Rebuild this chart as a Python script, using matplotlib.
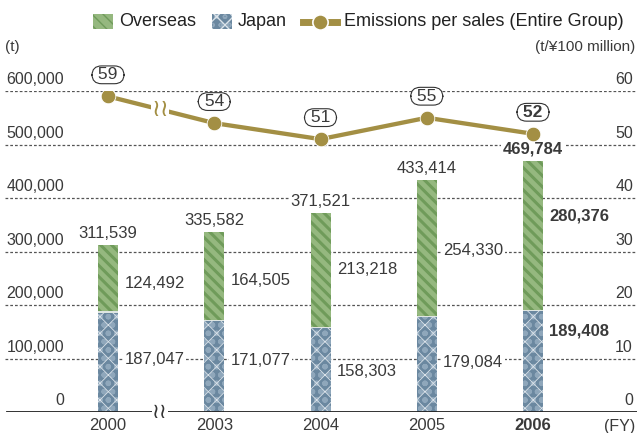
import numpy as np
import matplotlib
matplotlib.use("Agg")
import matplotlib.pyplot as plt
from matplotlib.patches import Rectangle
from matplotlib.lines import Line2D
from matplotlib.transforms import blended_transform_factory

plt.rcParams['font.family'] = ['Liberation Sans', 'DejaVu Sans']

# ---------------------------------------------------------------------------
# data
# ---------------------------------------------------------------------------
years     = ["2000", "2003", "2004", "2005", "2006"]
japan     = [187047, 171077, 158303, 179084, 189408]
overseas  = [124492, 164505, 213218, 254330, 280376]
totals    = [311539, 335582, 371521, 433414, 469784]
intensity = [59, 54, 51, 55, 52]

left_ticks  = [0, 100000, 200000, 300000, 400000, 500000, 600000]
right_ticks = [0, 10, 20, 30, 40, 50, 60]

# layout tweaks for segment labels (pixels, + is up)
ov_dy = [-5, -4, 1, -2, 20]
jp_dy = [2, 6, -2, 2, 30]

W, H = 637, 433
TXT = "#3a3a3a"
GREEN, GREEN_D = "#95b87f", "#6f9b5a"
BLUE, BLUE_L = "#6b88a0", "#8fa7bb"
GOLD = "#a38f44"


def fx(px):
    return px / W


def fy(py):
    return 1 - py / H


fig = plt.figure(figsize=(W / 100, H / 100), dpi=100)
ax = fig.add_axes([0, fy(412), 1, (412 - 91) / H])
ax2 = ax.twinx()
for a in (ax, ax2):
    a.set_axis_off()
    a.set_xlim(-108 / 106.25, (W - 108) / 106.25)
ax.set_ylim(0, 600000)
ax2.set_ylim(0, 60)

x = np.arange(len(years))
bw = 20 / 106.25

# grid + baseline
for v in left_ticks[1:]:
    ax.axhline(v, xmin=fx(5), xmax=fx(635), color="#555555", lw=0.9,
               dashes=(2.2, 1.6), zorder=0)
ax.axhline(0, xmin=fx(7), xmax=1, color="#222222", lw=1.3, zorder=3)

# tick labels sit just above the grid lines
tl = blended_transform_factory(ax.transAxes, ax.transData)
for v in left_ticks:
    ax.annotate(f"{v:,}", xy=(fx(64), v), xycoords=tl, xytext=(0, 5),
                textcoords="offset points", ha="right", va="baseline",
                fontsize=11.5, color=TXT)
tr = blended_transform_factory(ax2.transAxes, ax2.transData)
for v in right_ticks:
    ax2.annotate(f"{v}", xy=(fx(633), v), xycoords=tr, xytext=(0, 5),
                 textcoords="offset points", ha="right", va="baseline",
                 fontsize=11.5, color=TXT)

fig.text(fx(5), fy(47), "(t)", ha="left", va="center", fontsize=11, color=TXT)
fig.text(fx(635), fy(47), "(t/¥100 million)", ha="right", va="center",
         fontsize=11, color=TXT)
fig.text(fx(635), fy(426), "(FY)", ha="right", va="center", fontsize=11.5,
         color=TXT)

# bars
jb = ax.bar(x, japan, bw, color=BLUE, lw=0, hatch="oo", edgecolor=BLUE_L,
            zorder=2)
jb2 = ax.bar(x, japan, bw, color="none", lw=0, hatch="xx",
             edgecolor="#dbe3ea", zorder=2)
ob = ax.bar(x, overseas, bw, bottom=japan, color=GREEN, lw=0,
            hatch="\\\\\\", edgecolor=GREEN_D, zorder=2)
for bars, lw in ((jb, 1.6), (jb2, 0.6), (ob, 2.2)):
    for p in bars:
        if hasattr(p, "set_hatch_linewidth"):
            p.set_hatch_linewidth(lw)
ax.bar(x, 2500, bw, bottom=np.array(japan) - 1250, color="#dfe6e2", lw=0,
       zorder=2.5)

box = dict(facecolor="white", edgecolor="none", pad=1.2)
for i in range(len(years)):
    bold = "bold" if i == len(years) - 1 else "normal"
    ax.annotate(f"{totals[i]:,}", xy=(x[i], totals[i]), xytext=(0, 3),
                textcoords="offset points", ha="center", va="bottom",
                fontsize=12, color=TXT, weight=bold, bbox=box, zorder=4)
    ax.annotate(f"{overseas[i]:,}", xy=(x[i] + bw / 2, japan[i] + overseas[i] / 2),
                xytext=(4.5, ov_dy[i] * 0.72), textcoords="offset points",
                ha="left", va="center", fontsize=12, color=TXT, weight=bold,
                bbox=box, zorder=4)
    ax.annotate(f"{japan[i]:,}", xy=(x[i] + bw / 2, japan[i] / 2),
                xytext=(4.5, jp_dy[i] * 0.72), textcoords="offset points",
                ha="left", va="center", fontsize=12, color=TXT, weight=bold,
                bbox=box, zorder=4)

# year labels
for i, yr in enumerate(years):
    ax.annotate(yr, xy=(x[i], 0), xytext=(0, -10), textcoords="offset points",
                ha="center", va="center", fontsize=12, color=TXT,
                weight="bold" if i == len(years) - 1 else "normal")

# emissions per sales line
ax2.plot(x, intensity, color=GOLD, lw=3.1, marker="o", ms=10.5,
         mec="white", mew=0.6, zorder=5)
for i, v in enumerate(intensity):
    ax2.annotate(f" {v} ", xy=(x[i], v), xytext=(0, 15.5),
                 textcoords="offset points", ha="center", va="center",
                 fontsize=12.5, color=TXT,
                 weight="bold" if i == len(years) - 1 else "normal",
                 bbox=dict(boxstyle="round,pad=0.08,rounding_size=0.55",
                           facecolor="white", edgecolor="#333333", lw=0.8),
                 zorder=6)

# axis breaks between 2000 and 2003
bx = 0.49
ax2.text(bx, np.interp(bx, x, intensity), "≀≀", ha="center", va="center",
         fontsize=17, color=GOLD, family="DejaVu Sans", zorder=6,
         bbox=dict(facecolor="white", edgecolor="none", pad=0))
ax.text(bx, 0, "≀≀", ha="center", va="center", fontsize=15, color="#333333",
        family="DejaVu Sans", zorder=6,
        bbox=dict(facecolor="white", edgecolor="none", pad=0))

# legend drawn by hand to match the original spacing
ly = 21.5
r1 = Rectangle((fx(93), fy(29)), fx(20), 15 / H, transform=fig.transFigure,
               facecolor=GREEN, edgecolor=GREEN_D, hatch="\\\\\\", lw=0)
r2 = Rectangle((fx(212), fy(29)), fx(20), 15 / H, transform=fig.transFigure,
               facecolor=BLUE, edgecolor=BLUE_L, hatch="oo", lw=0)
r3 = Rectangle((fx(212), fy(29)), fx(20), 15 / H, transform=fig.transFigure,
               facecolor="none", edgecolor="#dbe3ea", hatch="xx", lw=0)
for r in (r1, r2, r3):
    fig.patches.append(r)
fig.lines.append(Line2D([fx(303), fx(337)], [fy(ly), fy(ly)],
                        transform=fig.transFigure, color=GOLD, lw=5))
fig.lines.append(Line2D([fx(320)], [fy(ly)], transform=fig.transFigure,
                        color=GOLD, marker="o", ms=11, mec="white", mew=1.2))
fig.text(fx(119), fy(ly), "Overseas", ha="left", va="center", fontsize=13,
         color="#222222")
fig.text(fx(238), fy(ly), "Japan", ha="left", va="center", fontsize=13,
         color="#222222")
fig.text(fx(344), fy(ly), "Emissions per sales (Entire Group)", ha="left",
         va="center", fontsize=13, color="#222222")

fig.savefig("out.png", dpi=100)
